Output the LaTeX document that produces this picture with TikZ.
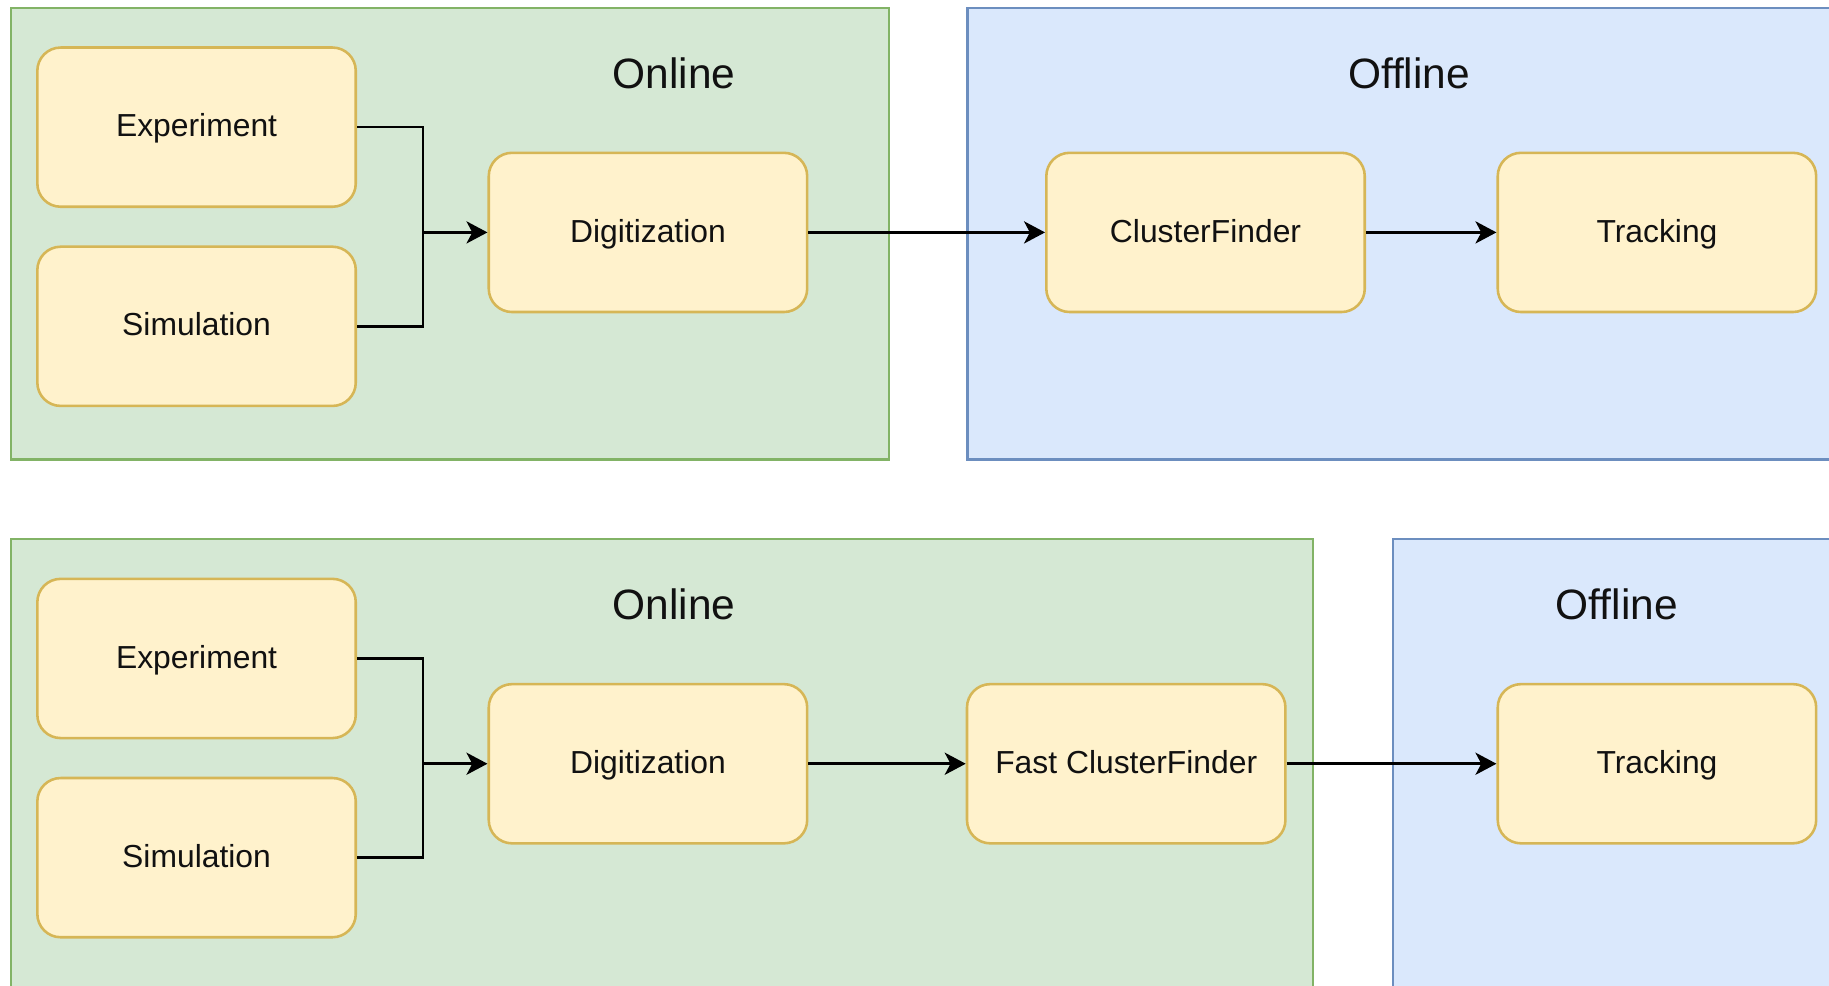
\documentclass[tikz,border=0pt]{standalone}
\usepackage{fontspec}
\setmainfont{Liberation Sans}
\usetikzlibrary{arrows.meta}

\definecolor{onlinefill}{HTML}{D5E8D4}
\definecolor{onlineline}{HTML}{82B366}
\definecolor{offlinefill}{HTML}{DAE8FC}
\definecolor{offlineline}{HTML}{6C8EBF}
\definecolor{procfill}{HTML}{FFF2CC}
\definecolor{procline}{HTML}{D6B656}
\definecolor{ink}{HTML}{111111}

\tikzset{
  group/.style={draw, line width=0.9pt, anchor=north west, inner sep=0pt},
  online/.style={group, fill=onlinefill, draw=onlineline},
  offline/.style={group, fill=offlinefill, draw=offlineline},
  grouplabel/.style={text=ink, font=\fontsize{18.2pt}{21pt}\selectfont, inner sep=0pt},
  proc/.style={draw=procline, fill=procfill, line width=1.1pt, rounded corners=10pt,
    minimum width=136.5pt, minimum height=68.25pt, inner sep=0pt, text=ink,
    text height=10.24pt, text depth=1.96pt,
    font=\fontsize{13.65pt}{16pt}\selectfont},
  flow/.style={draw=black, line width=1.1pt},
  arr/.style={flow, -{Stealth[length=9pt, width=9.5pt, inset=2.5pt]}}
}

\begin{document}
\begin{tikzpicture}[x=0.5pt, y=-0.5pt]
  \useasboundingbox (0,0) rectangle (1568,845);

  % ---------- upper chain ----------
  \node[online,  minimum width=376.25pt, minimum height=193.5pt] (onT)  at (8.5,6) {};
  \node[offline, minimum width=380pt,    minimum height=193.5pt] (offT) at (828.5,6) {};
  \node[grouplabel] (onTl)  at (578,63)  {Online};
  \node[grouplabel] (offTl) at (1208,63) {Offline};

  \node[proc] (expT) at (168.5,109)     {Experiment};
  \node[proc] (simT) at (168.5,279.75)  {Simulation};
  \node[proc] (digT) at (555.5,199.25)  {Digitization};
  \node[proc] (cfT)  at (1033.5,199.25) {ClusterFinder};
  \node[proc] (trT)  at (1420.5,199.25) {Tracking};

  \coordinate (jT) at (362.5,199.25);
  \draw[arr]  (expT.east) -| (jT) -- (digT.west);
  \draw[flow] (simT.east) -| (jT);
  \draw[arr]  (digT.east) -- (cfT.west);
  \draw[arr]  (cfT.east) -- (trT.west);

  % ---------- lower chain ----------
  \node[online,  minimum width=558.25pt, minimum height=200pt] (onB)  at (8.5,461.5) {};
  \node[offline, minimum width=200pt,    minimum height=200pt] (offB) at (1193,461.5) {};
  \node[grouplabel] (onBl)  at (578,518.5)  {Online};
  \node[grouplabel] (offBl) at (1386,518.5) {Offline};

  \node[proc] (expB) at (168.5,564.5)   {Experiment};
  \node[proc] (simB) at (168.5,735.25)  {Simulation};
  \node[proc] (digB) at (555.5,654.75)  {Digitization};
  \node[proc] (fcfB) at (965.5,654.75)  {Fast ClusterFinder};
  \node[proc] (trB)  at (1420.5,654.75) {Tracking};

  \coordinate (jB) at (362.5,654.75);
  \draw[arr]  (expB.east) -| (jB) -- (digB.west);
  \draw[flow] (simB.east) -| (jB);
  \draw[arr]  (digB.east) -- (fcfB.west);
  \draw[arr]  (fcfB.east) -- (trB.west);
\end{tikzpicture}
\end{document}
